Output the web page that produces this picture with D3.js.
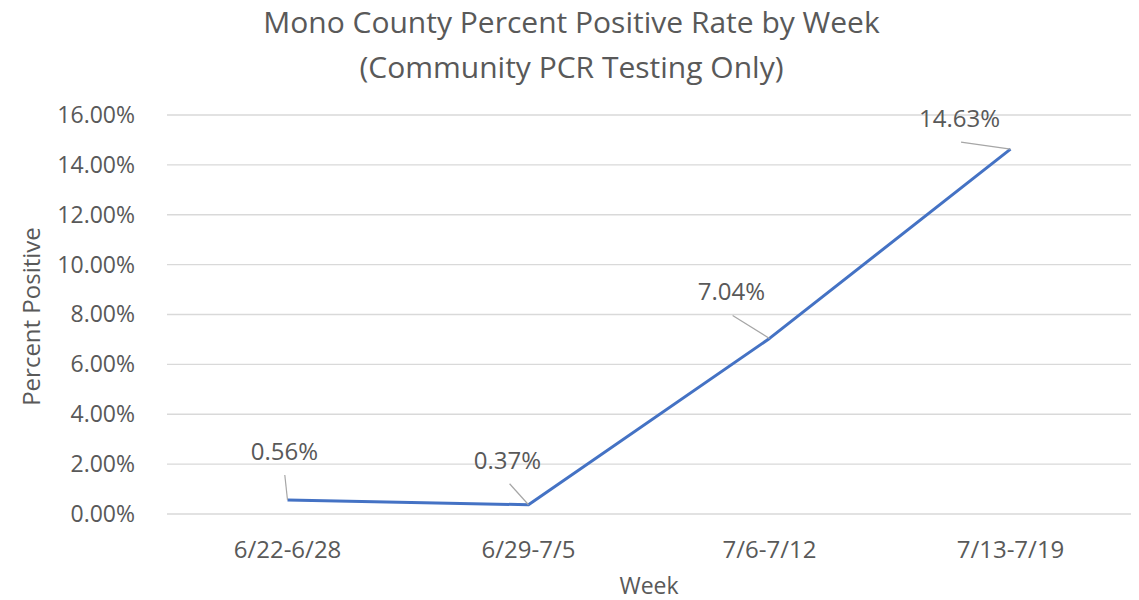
<!DOCTYPE html>
<html>
<head>
<meta charset="utf-8">
<script src="https://cdn.jsdelivr.net/npm/d3@7"></script>
<style>
  body { margin: 0; background: #fff; }
  svg text { font-family: "Open Sans", "Liberation Sans", sans-serif; fill: #595959; }
</style>
</head>
<body>
<div id="showBox"></div>
<script>
const weeks = ["6/22-6/28", "6/29-7/5", "7/6-7/12", "7/13-7/19"]
const positiveRate = [0.0056, 0.0037, 0.0704, 0.1463]
const yTicks = [0, 0.02, 0.04, 0.06, 0.08, 0.10, 0.12, 0.14, 0.16]
// label offset from point (dx, dy) in px
const labelOffsets = [[-3, -40], [-21, -36], [-38, -38], [-51, -22]]

const width = 1139, height = 600
const margin = {top: 115, right: 8, bottom: 86, left: 167}
const fs = 23

const svg = d3.select("#showBox").append("svg")
    .attr("width", width)
    .attr("height", height)

const x = d3.scaleBand()
    .domain(weeks)
    .range([margin.left, width - margin.right])

const y = d3.scaleLinear()
    .domain([0, 0.16])
    .range([height - margin.bottom, margin.top])

// gridlines
svg.append("g")
    .attr("stroke", "#d9d9d9")
    .attr("stroke-width", 1.3)
    .selectAll("line")
    .data(yTicks)
    .join("line")
    .attr("x1", margin.left)
    .attr("x2", width - margin.right)
    .attr("y1", d => y(d))
    .attr("y2", d => y(d))

// y axis labels
const yAxis = svg.append("g")
    .attr("transform", `translate(${margin.left - 29},0)`)
    .call(d3.axisLeft(y).tickValues(yTicks).tickFormat(d3.format(".2%")).tickSize(0))
yAxis.select(".domain").remove()
yAxis.selectAll("text").attr("font-size", fs).attr("fill", "#595959")
    .style("font-family", null)

// x axis labels
const xAxis = svg.append("g")
    .attr("transform", `translate(0,${height - margin.bottom + 24})`)
    .call(d3.axisBottom(x).tickSize(0))
xAxis.select(".domain").remove()
xAxis.selectAll("text").attr("font-size", fs + 1).attr("fill", "#595959")

// line
const line = d3.line()
    .x((d, i) => x(weeks[i]) + x.bandwidth() / 2)
    .y(d => y(d))

svg.append("path")
    .datum(positiveRate)
    .attr("fill", "none")
    .attr("stroke", "#4472c4")
    .attr("stroke-width", 3)
    .attr("stroke-linejoin", "round")
    .attr("d", line)

// data labels with leader lines
const pts = positiveRate.map((v, i) => ({
    v: v,
    px: x(weeks[i]) + x.bandwidth() / 2,
    py: y(v),
    dx: labelOffsets[i][0],
    dy: labelOffsets[i][1]
}))

svg.append("g")
    .attr("stroke", "#a6a6a6")
    .attr("stroke-width", 1.2)
    .selectAll("line")
    .data(pts)
    .join("line")
    .attr("x1", d => d.px + d.dx * (d.dx < -30 ? 0.97 : 0.9))
    .attr("y1", d => d.py + d.dy + 15)
    .attr("x2", d => d.px)
    .attr("y2", d => d.py)

svg.append("g")
    .selectAll("text")
    .data(pts)
    .join("text")
    .attr("x", d => d.px + d.dx)
    .attr("y", d => d.py + d.dy)
    .attr("text-anchor", "middle")
    .attr("font-size", fs + 1)
    .attr("fill", "#404040")
    .text(d => d3.format(".2%")(d.v))

// titles
svg.append("text")
    .attr("x", width / 2 + 2)
    .attr("y", 33)
    .attr("text-anchor", "middle")
    .attr("font-size", 30)
    .text("Mono County Percent Positive Rate by Week")

svg.append("text")
    .attr("x", width / 2 + 2)
    .attr("y", 78)
    .attr("text-anchor", "middle")
    .attr("font-size", 30)
    .text("(Community PCR Testing Only)")

svg.append("text")
    .attr("transform", `translate(40,${(margin.top + height - margin.bottom) / 2 + 2}) rotate(-90)`)
    .attr("text-anchor", "middle")
    .attr("font-size", fs + 1)
    .text("Percent Positive")

svg.append("text")
    .attr("x", 649)
    .attr("y", 594)
    .attr("text-anchor", "middle")
    .attr("font-size", fs)
    .text("Week")
</script>
</body>
</html>
